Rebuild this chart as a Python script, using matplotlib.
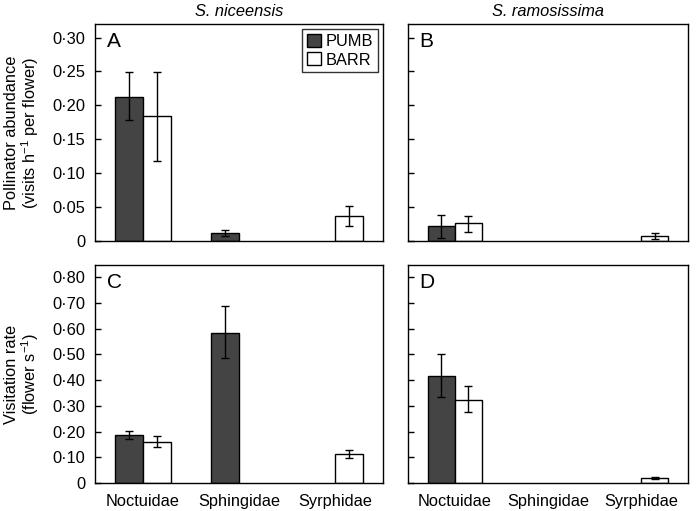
import matplotlib
matplotlib.use("Agg")
import matplotlib.pyplot as plt
import numpy as np

plt.rcParams['font.family'] = ['Liberation Sans', 'DejaVu Sans']
plt.rcParams['mathtext.fontset'] = 'custom'
plt.rcParams['mathtext.rm'] = 'Liberation Sans'
plt.rcParams['mathtext.it'] = 'Liberation Sans:italic'

categories = ["Noctuidae", "Sphingidae", "Syrphidae"]
series = ["PUMB", "BARR"]

# Panel A: S. niceensis abundance
a_pumb = [0.213, 0.012, np.nan]
a_pumb_lo = [0.178, 0.008, np.nan]
a_pumb_hi = [0.249, 0.016, np.nan]
a_barr = [0.184, np.nan, 0.037]
a_barr_lo = [0.118, np.nan, 0.022]
a_barr_hi = [0.249, np.nan, 0.052]

# Panel B: S. ramosissima abundance
b_pumb = [0.022, np.nan, np.nan]
b_pumb_lo = [0.005, np.nan, np.nan]
b_pumb_hi = [0.039, np.nan, np.nan]
b_barr = [0.026, np.nan, 0.0075]
b_barr_lo = [0.013, np.nan, 0.003]
b_barr_hi = [0.037, np.nan, 0.012]

# Panel C: S. niceensis visitation rate
c_pumb = [0.188, 0.582, np.nan]
c_pumb_lo = [0.171, 0.485, np.nan]
c_pumb_hi = [0.202, 0.686, np.nan]
c_barr = [0.160, np.nan, 0.114]
c_barr_lo = [0.140, np.nan, 0.097]
c_barr_hi = [0.182, np.nan, 0.130]

# Panel D: S. ramosissima visitation rate
d_pumb = [0.416, np.nan, np.nan]
d_pumb_lo = [0.336, np.nan, np.nan]
d_pumb_hi = [0.500, np.nan, np.nan]
d_barr = [0.324, np.nan, 0.020]
d_barr_lo = [0.276, np.nan, 0.016]
d_barr_hi = [0.377, np.nan, 0.024]

abund_ticks = [0, 0.05, 0.10, 0.15, 0.20, 0.25, 0.30]
abund_labels = ["0", "0·05", "0·10", "0·15", "0·20", "0·25", "0·30"]
rate_ticks = [0, 0.1, 0.2, 0.3, 0.4, 0.5, 0.6, 0.7, 0.8]
rate_labels = ["0", "0·10", "0·20", "0·30", "0·40", "0·50", "0·60", "0·70", "0·80"]

fig = plt.figure(figsize=(7.0, 5.11), dpi=100)
W, H = 700, 511
def rect(l, t, r, b):
    return [l / W, 1 - b / H, (r - l) / W, (b - t) / H]

axA = fig.add_axes(rect(95, 24, 383, 241))
axB = fig.add_axes(rect(408, 24, 688, 241))
axC = fig.add_axes(rect(95, 265, 383, 483))
axD = fig.add_axes(rect(408, 265, 688, 483))

x = np.arange(len(categories))
w = 0.29
dark = "#444444"
fs = 11.8

def draw(ax, p, plo, phi, b, blo, bhi, ylim, ticks, labels, letter, show_labels, show_x):
    p = np.array(p); b = np.array(b)
    perr = np.array([p - np.array(plo), np.array(phi) - p])
    berr = np.array([b - np.array(blo), np.array(bhi) - b])
    ax.bar(x - w / 2, p, w, color=dark, edgecolor="black", linewidth=1.0, label=series[0], zorder=2)
    ax.bar(x + w / 2, b, w, color="white", edgecolor="black", linewidth=1.0, label=series[1], zorder=2)
    ax.errorbar(x - w / 2, p, yerr=perr, fmt="none", ecolor="black", elinewidth=1.0, capsize=3, capthick=1.0, zorder=3)
    ax.errorbar(x + w / 2, b, yerr=berr, fmt="none", ecolor="black", elinewidth=1.0, capsize=3, capthick=1.0, zorder=3)
    ax.set_xlim(-0.5, 2.5)
    ax.set_ylim(*ylim)
    ax.set_yticks(ticks)
    if show_labels:
        ax.set_yticklabels(labels, fontsize=fs)
    else:
        ax.set_yticklabels([])
    ax.tick_params(axis="y", direction="in", length=4, width=1.0, pad=7)
    ax.set_xticks(x)
    if show_x:
        ax.set_xticklabels(categories, fontsize=fs)
    else:
        ax.set_xticklabels([])
    ax.tick_params(axis="x", length=0, pad=8)
    for s in ax.spines.values():
        s.set_linewidth(1.0)
    ax.text(0.04, 0.965, letter, transform=ax.transAxes, fontsize=15, va="top", ha="left")

draw(axA, a_pumb, a_pumb_lo, a_pumb_hi, a_barr, a_barr_lo, a_barr_hi, (0, 0.32), abund_ticks, abund_labels, "A", True, False)
draw(axB, b_pumb, b_pumb_lo, b_pumb_hi, b_barr, b_barr_lo, b_barr_hi, (0, 0.32), abund_ticks, abund_labels, "B", False, False)
draw(axC, c_pumb, c_pumb_lo, c_pumb_hi, c_barr, c_barr_lo, c_barr_hi, (0, 0.847), rate_ticks, rate_labels, "C", True, True)
draw(axD, d_pumb, d_pumb_lo, d_pumb_hi, d_barr, d_barr_lo, d_barr_hi, (0, 0.847), rate_ticks, rate_labels, "D", False, True)

axA.set_title("S. niceensis", fontsize=fs, style="italic", pad=6)
axB.set_title("S. ramosissima", fontsize=fs, style="italic", pad=6)

axA.set_ylabel("Pollinator abundance\n(visits h$^{-1}$ per flower)", fontsize=fs, labelpad=8, linespacing=1.05)
axC.set_ylabel("Visitation rate\n(flower s$^{-1}$)", fontsize=fs, labelpad=8, linespacing=1.05)

leg = axA.legend(loc="upper right", fontsize=fs, frameon=True, fancybox=False,
                 edgecolor="black", handlelength=0.85, handleheight=0.85,
                 handletextpad=0.3, borderpad=0.3, labelspacing=0.2,
                 borderaxespad=0.3)
leg.get_frame().set_linewidth(1.0)

fig.savefig("out.png", dpi=100)
